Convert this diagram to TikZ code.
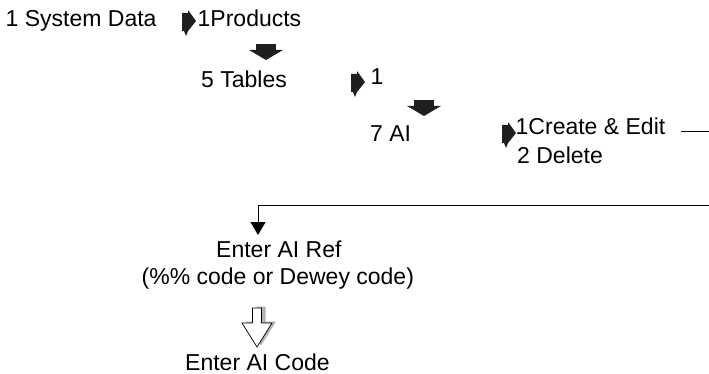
\documentclass[tikz,border=0pt]{standalone}
\usepackage{fontspec}
\setmainfont{Liberation Sans}
\usetikzlibrary{arrows.meta}
\tikzset{
  lbl/.style={anchor=base west, inner sep=0pt, font=\fontsize{23}{28}\selectfont},
  rarrow/.pic={\fill[black!88] (0,3) -- (6,3) -- (6,0) -- (14,11) -- (6,21) -- (4,26) -- (2,21) -- (0,21) -- cycle;},
  darrow/.pic={\fill[black!88] (-10,0) rectangle (10,6);
               \fill[black!88] (-17,6) -- (17,6) -- (0,16) -- cycle;},
  harrow/.pic={\fill[gray!60] (-0.5,-1.5) -- (8.5,-1.5) -- (8.5,13.5) -- (19,13.5) -- (4,37.5) -- (-11,13.5) -- (-0.5,13.5) -- cycle;
               \filldraw[fill=white, draw=black, line width=0.7pt] (-4.5,0) -- (4.5,0) -- (4.5,15) -- (15,15) -- (0,39) -- (-15,15) -- (-4.5,15) -- cycle;},
  conn/.style={line width=1pt, -{Triangle[width=15pt,length=13pt]}}
}
\begin{document}
\begin{tikzpicture}[x=1pt,y=-1pt]
\useasboundingbox (0,0) rectangle (709,374);
% texts
\node[lbl] (sys) at (5.5,27) {1 System Data};
\node[lbl] (prod) at (197.5,27) {1Products};
\node[lbl] (tables) at (201,88) {5 Tables};
\node[lbl] (one) at (370.5,85) {1};
\node[lbl] (ai) at (370,142) {7 AI};
\node[lbl] (create) at (515.5,135) {1Create \& Edit};
\node[lbl] (delete) at (517,164) {2 Delete};
\node[lbl] (ref) at (216,257) {Enter AI Ref};
\node[lbl] (dewey) at (141.5,284) {(\%\% code or Dewey code)};
\node[lbl] (code) at (185,370) {Enter AI Code};
% block arrows
\pic at (182,10) {rarrow};
\pic at (351,71) {rarrow};
\pic at (502,122) {rarrow};
\pic at (266,44) {darrow};
\pic at (424,100) {darrow};
\pic at (257,308) {harrow};
% connector
\coordinate (refin) at ([shift={(42,-22)}]ref.base west);
\begin{scope}
\clip (0,0) rectangle (709,374);
\draw[conn] ([shift={(16,-3)}]create.base east) -- (715,132) -- (715,206) -- (refin |- 0,206) -- (refin);
\end{scope}
\end{tikzpicture}
\end{document}
